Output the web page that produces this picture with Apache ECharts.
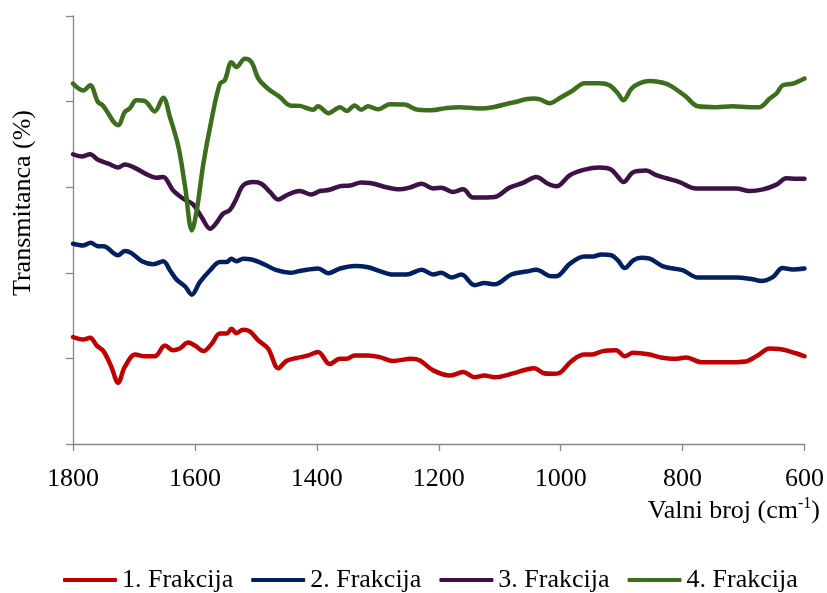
<!DOCTYPE html>
<html><head><meta charset="utf-8">
<script src="https://cdn.jsdelivr.net/npm/echarts@6/dist/echarts.min.js"></script>
<style>html,body{margin:0;padding:0;background:#fff}#c{width:827px;height:593px}</style>
</head><body><div id="c"></div>
<script>
const seriesNames = ['1. Frakcija', '2. Frakcija', '3. Frakcija', '4. Frakcija'];
const xTicks = [1800, 1600, 1400, 1200, 1000, 800, 600];

const f1Wn = [1800,1783,1772,1761,1750,1737,1726,1715,1698,1682,1666,1649,1636,1625,1611,1600,1586,1573,1559,1548,1540,1532,1521,1510,1496,1480,1463,1450,1433,1414,1398,1379,1362,1351,1338,1316,1297,1275,1245,1231,1209,1182,1160,1141,1125,1108,1078,1056,1043,1029,1013,1002,982,961,950,931,909,895,881,854,838,813,794,769,734,696,677,657,641,614,600];
const f1T = [25.0,24.4,24.8,23.0,21.7,18.0,14.3,18.0,20.9,20.5,20.5,23.0,21.9,22.3,23.7,23.0,21.7,23.3,25.8,25.8,26.9,25.9,26.7,26.3,24.2,22.3,17.7,19.4,20.1,20.7,21.5,18.7,19.9,19.9,20.7,20.7,20.3,19.4,19.9,19.5,17.2,16.0,16.8,15.6,16.0,15.6,16.5,17.4,17.7,16.6,16.4,16.6,19.4,20.9,20.9,21.7,21.9,20.5,21.3,20.9,20.3,19.9,20.2,19.1,19.1,19.3,20.7,22.3,22.2,21.2,20.5];

const f2Wn = [1800,1783,1771,1759,1750,1726,1715,1704,1687,1668,1652,1641,1630,1616,1605,1592,1575,1559,1548,1540,1532,1521,1507,1488,1466,1444,1428,1398,1381,1362,1338,1316,1297,1275,1253,1228,1209,1196,1179,1163,1141,1125,1108,1081,1056,1040,1015,1007,985,961,947,933,917,906,895,881,868,854,832,800,775,745,712,685,671,652,636,619,600];
const f2T = [46.8,46.4,47.0,46.2,46.2,44.1,45.1,44.6,42.7,42.0,42.7,40.6,38.4,36.8,34.9,37.8,40.6,42.5,42.5,43.3,42.7,43.3,43.1,42.1,40.6,40.0,40.4,41.0,39.9,41.0,41.6,41.3,40.4,39.6,39.6,40.7,39.6,40.0,38.9,39.6,37.1,37.6,37.3,39.6,40.3,40.7,39.2,39.2,42.1,43.8,43.8,44.3,44.1,42.9,41.1,42.9,43.5,43.3,41.5,40.6,38.9,38.9,38.9,38.5,38.1,39.0,41.1,40.8,41.0];

const f3Wn = [1800,1786,1772,1759,1742,1726,1715,1701,1679,1663,1652,1636,1619,1603,1589,1575,1564,1554,1543,1532,1521,1504,1491,1477,1463,1450,1428,1409,1395,1379,1360,1346,1327,1313,1286,1264,1248,1228,1209,1196,1177,1160,1144,1122,1108,1084,1062,1040,1021,1007,985,961,936,917,906,897,881,860,843,827,805,778,745,712,690,668,646,630,614,600];
const f3T = [67.7,67.2,67.7,66.4,65.5,64.6,65.3,64.7,63.0,62.2,62.4,59.3,57.3,56.0,53.0,50.3,51.8,53.8,54.6,57.3,60.4,61.2,60.8,58.9,57.1,58.1,59.1,58.3,59.1,59.4,60.3,60.4,61.1,61.0,60.0,59.5,59.9,60.8,59.7,59.9,58.9,59.5,57.6,57.6,57.7,59.9,61.0,62.4,60.8,60.2,62.8,64.1,64.6,64.1,62.4,61.2,63.5,63.9,62.8,62.1,61.2,59.7,59.7,59.7,59.1,59.5,60.6,62.1,62.0,62.0];

const f4Wn = [1800,1783,1772,1759,1751,1726,1715,1707,1696,1682,1666,1652,1641,1627,1616,1605,1597,1586,1573,1559,1551,1540,1532,1518,1507,1496,1480,1461,1444,1428,1406,1398,1381,1362,1351,1338,1327,1316,1300,1280,1256,1234,1212,1187,1166,1133,1111,1078,1045,1034,1018,1002,980,961,936,920,906,897,884,870,854,832,816,794,775,745,718,690,674,657,646,636,619,600];
const f4T = [84.2,82.6,83.8,79.9,79.1,74.5,77.6,78.4,80.3,80.1,77.7,80.9,76.4,69.4,60.0,49.9,54.6,65.6,75.6,84.2,85.0,89.2,88.1,90.0,89.2,85.4,83.0,81.1,79.1,79.0,78.1,78.9,77.3,78.7,77.8,79.1,78.1,78.9,78.2,79.4,79.3,78.1,78.0,78.5,78.7,78.4,78.7,79.8,80.7,80.5,79.6,80.8,82.6,84.3,84.3,83.8,81.9,80.3,83.0,84.3,84.8,84.4,83.4,81.1,78.9,78.7,78.9,78.7,78.7,80.7,81.9,83.8,84.2,85.4];

const colors = ['#C00000', '#002060', '#3E1248', '#3C6E1E'];
const FONT = 'Liberation Serif';

function pairs(wn, t) { return wn.map((w, i) => [w, t[i]]); }
const allData = [pairs(f1Wn, f1T), pairs(f2Wn, f2T), pairs(f3Wn, f3T), pairs(f4Wn, f4T)];

const chart = echarts.init(document.getElementById('c'), null, {renderer: 'canvas'});
chart.setOption({
  animation: false,
  backgroundColor: '#fff',
  color: colors,
  grid: {left: 73, right: 22, top: 16, bottom: 149, containLabel: false},
  xAxis: {
    type: 'value', min: xTicks[xTicks.length - 1], max: xTicks[0], interval: 200, inverse: true,
    axisLine: {show: true, lineStyle: {color: '#888', width: 1.3}},
    axisTick: {show: true, length: 7, lineStyle: {color: '#888', width: 1.3}},
    axisLabel: {fontFamily: FONT, fontSize: 26, color: '#000', margin: 22, formatter: v => String(v)},
    splitLine: {show: false}
  },
  yAxis: {
    type: 'value', min: 0, max: 100, interval: 20,
    axisLine: {show: true, lineStyle: {color: '#888', width: 1.3}},
    axisTick: {show: true, length: 7, lineStyle: {color: '#888', width: 1.3}},
    axisLabel: {show: false},
    splitLine: {show: false}
  },
  legend: {
    left: 58, top: 562, itemWidth: 54, itemHeight: 4, itemGap: 18, icon: 'roundRect',
    textStyle: {fontFamily: FONT, fontSize: 26, color: '#000'},
    data: seriesNames
  },
  graphic: [
    {type: 'text', x: 23, y: 203, rotation: Math.PI / 2,
     style: {text: 'Transmitanca (%)', fontFamily: FONT, fontSize: 26, fill: '#000', textAlign: 'center', textVerticalAlign: 'middle'}},
    {type: 'text', x: 820, y: 511,
     style: {text: 'Valni broj (cm{s|-1})', fontFamily: FONT, fontSize: 26, fill: '#000', textAlign: 'right', textVerticalAlign: 'middle',
       rich: {s: {fontFamily: FONT, fontSize: 16, verticalAlign: 'top', lineHeight: 30, fill: '#000'}}}}
  ],
  series: seriesNames.map((n, i) => ({
    name: n, type: 'line', data: allData[i], smooth: 0.35, showSymbol: false, symbol: 'none',
    lineStyle: {width: 4.5, color: colors[i], cap: 'round', join: 'round'},
    itemStyle: {color: colors[i]}
  }))
});
</script></body></html>
